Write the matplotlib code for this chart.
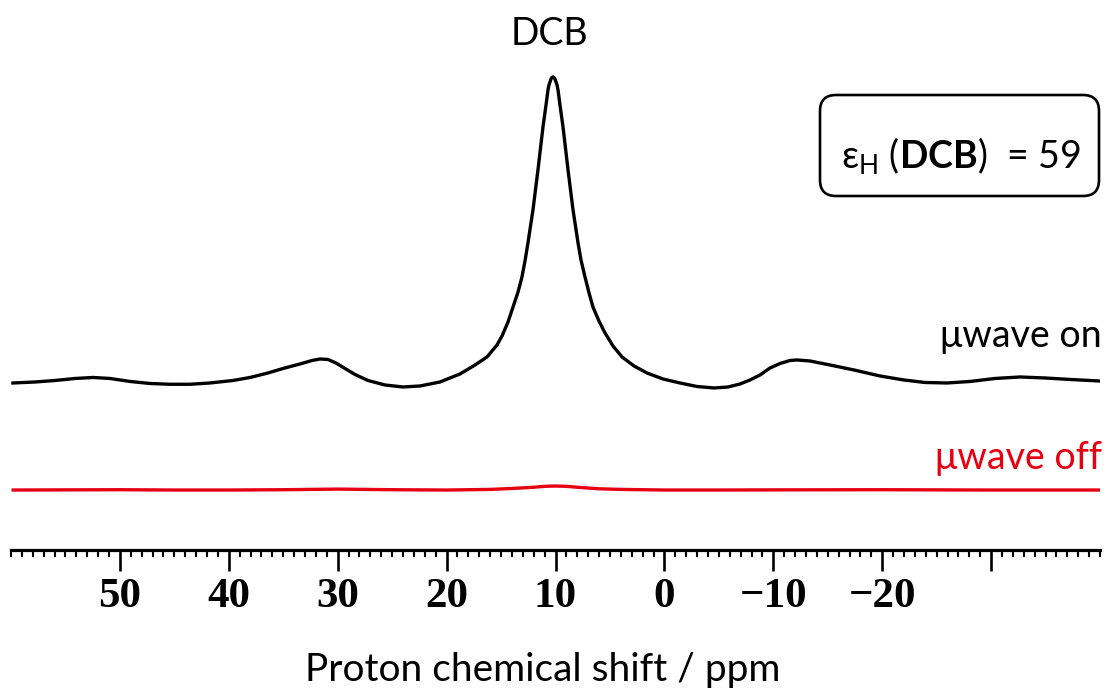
import matplotlib
matplotlib.use("Agg")
import matplotlib.pyplot as plt
from matplotlib.patches import FancyBboxPatch
from matplotlib.ticker import MultipleLocator

# ---- data (ppm, relative intensity; DCB peak = 100) ----
on_ppm = [59.82, 57.80, 55.96, 54.12, 52.47, 50.91, 49.07, 47.24, 45.40, 43.56,
          41.73, 39.61, 38.05, 36.40, 35.02, 33.46, 32.36, 31.63, 30.89, 30.16,
          29.33, 28.41, 27.22, 25.66, 24.00, 22.44, 20.61, 18.77, 17.39, 16.29,
          15.37, 14.91, 14.36, 13.90, 13.44, 13.08, 12.80, 12.53, 12.07, 11.61,
          11.15, 10.87, 10.69, 10.60, 10.41, 10.32, 10.23, 10.14, 10.05, 9.86,
          9.77, 9.59, 9.31, 8.85,
          8.39, 7.93, 7.66, 7.29, 6.92, 6.56, 6.01, 5.45, 4.72, 3.89,
          2.79, 1.60, 0.13, -1.43, -2.99, -4.55, -5.84, -6.94, -7.86, -8.78,
          -9.70, -10.62, -11.53, -12.18, -13.37, -15.21, -17.41, -19.80, -22.00,
          -23.93, -25.95, -28.06, -30.36, -32.65, -34.95, -37.25, -39.91]
on_int = [0.65, 0.97, 1.46, 2.11, 2.44, 2.11, 1.14, 0.49, 0.23, 0.23,
          0.65, 1.46, 2.44, 3.90, 5.36, 6.82, 7.95, 8.44, 8.28, 7.14,
          5.36, 3.41, 1.46, 0.00, -0.65, -0.32, 0.97, 3.57, 6.49, 9.09,
          12.99, 15.91, 20.45, 25.32, 30.19, 35.06, 40.26, 46.10, 56.82, 69.81,
          83.77, 90.91, 95.78, 97.40, 99.35, 99.84, 100.0, 99.84, 99.35, 97.40,
          95.78, 90.91, 83.77, 69.81,
          56.82, 46.10, 40.58, 35.06, 29.87, 25.32, 20.78, 16.88, 12.66, 9.09,
          6.17, 3.90, 1.95, 0.65, -0.49, -0.97, -0.65, 0.32, 1.62, 3.25,
          5.52, 6.98, 7.95, 8.12, 7.79, 6.49, 4.87, 2.92, 1.62,
          0.81, 0.65, 1.14, 2.11, 2.60, 2.27, 1.79, 1.30]

off_ppm = [59.8, 50.0, 45.0, 40.0, 35.0, 30.0, 25.0, 20.0, 16.0, 14.0, 12.0, 11.0,
           10.0, 9.0, 8.0, 6.0, 4.0, 0.0, -5.0, -10.0, -20.0, -30.0, -39.9]
off_int = [0.0, 0.1, 0.0, 0.0, 0.1, 0.3, 0.1, 0.0, 0.2, 0.5, 0.9, 1.2,
           1.3, 1.2, 0.9, 0.4, 0.2, 0.0, 0.0, 0.05, 0.1, 0.0, 0.0]

tick_values = [50, 40, 30, 20, 10, 0, -10, -20, -30]
tick_labels = ["50", "40", "30", "20", "10", "0", "\u221210", "\u221220", ""]

series_labels = ["\u03bcwave on", "\u03bcwave off"]
peak_label = "DCB"
enh_value = 59

# ---- figure ----
W, H, DPI = 1107, 696, 100
plt.rcParams["mathtext.fontset"] = "custom"
plt.rcParams["mathtext.rm"] = "Lato"
plt.rcParams["mathtext.bf"] = "Lato:bold"
plt.rcParams["mathtext.it"] = "Lato:italic"
SANS = ["Lato", "DejaVu Sans"]
RED = "#e60012"

fig = plt.figure(figsize=(W / DPI, H / DPI), dpi=DPI)
fig.patch.set_facecolor("white")

def fx(px):
    return px / W

def fy(py):
    return 1 - py / H

ax = fig.add_axes([fx(11), fy(550), fx(1100) - fx(11), fy(60) - fy(550)])
off_offset = -34.1

ax.plot(on_ppm, on_int, color="black", lw=2.4, solid_joinstyle="round")
ax.plot(off_ppm, [v + off_offset for v in off_int], color=RED, lw=2.4,
        solid_joinstyle="round")

ax.set_xlim(60, -40)
ax.set_ylim(-53.57, 105.5)

for s in ["top", "left", "right"]:
    ax.spines[s].set_visible(False)
ax.spines["bottom"].set_linewidth(2.3)
ax.set_yticks([])
ax.set_xticks(tick_values)
ax.set_xticklabels(tick_labels)
ax.xaxis.set_minor_locator(MultipleLocator(1))
ax.tick_params(axis="x", which="major", direction="out", length=15, width=1.9,
               pad=5)
ax.tick_params(axis="x", which="minor", direction="out", length=5, width=1.5)
for lab in ax.get_xticklabels():
    lab.set_fontfamily("Liberation Serif")
    lab.set_fontweight("bold")
    lab.set_fontsize(31)

# texts
fig.text(fx(543), fy(681), "Proton chemical shift / ppm", ha="center",
         va="baseline", fontsize=28, family=SANS)
fig.text(fx(549), fy(45), peak_label, ha="center", va="baseline",
         fontsize=27, family=SANS)
fig.text(fx(1102), fy(347), series_labels[0], ha="right", va="baseline",
         fontsize=27, family=SANS, color="black")
fig.text(fx(1102), fy(469), series_labels[1], ha="right", va="baseline",
         fontsize=27, family=SANS, color=RED)

# enhancement box
box = FancyBboxPatch((820 / DPI, (H - 196) / DPI), 279 / DPI, 101 / DPI,
                     boxstyle="round,pad=0,rounding_size=0.16",
                     transform=fig.dpi_scale_trans, facecolor="white",
                     edgecolor="black", lw=1.9)
fig.add_artist(box)
fig.text(fx(961), fy(168),
         "\u03b5$_{\\mathregular{H}}$ ($\\mathbf{DCB}$)  = %d" % enh_value,
         ha="center", va="baseline", fontsize=27, family=SANS)

fig.savefig("out.png", dpi=DPI, facecolor="white")
